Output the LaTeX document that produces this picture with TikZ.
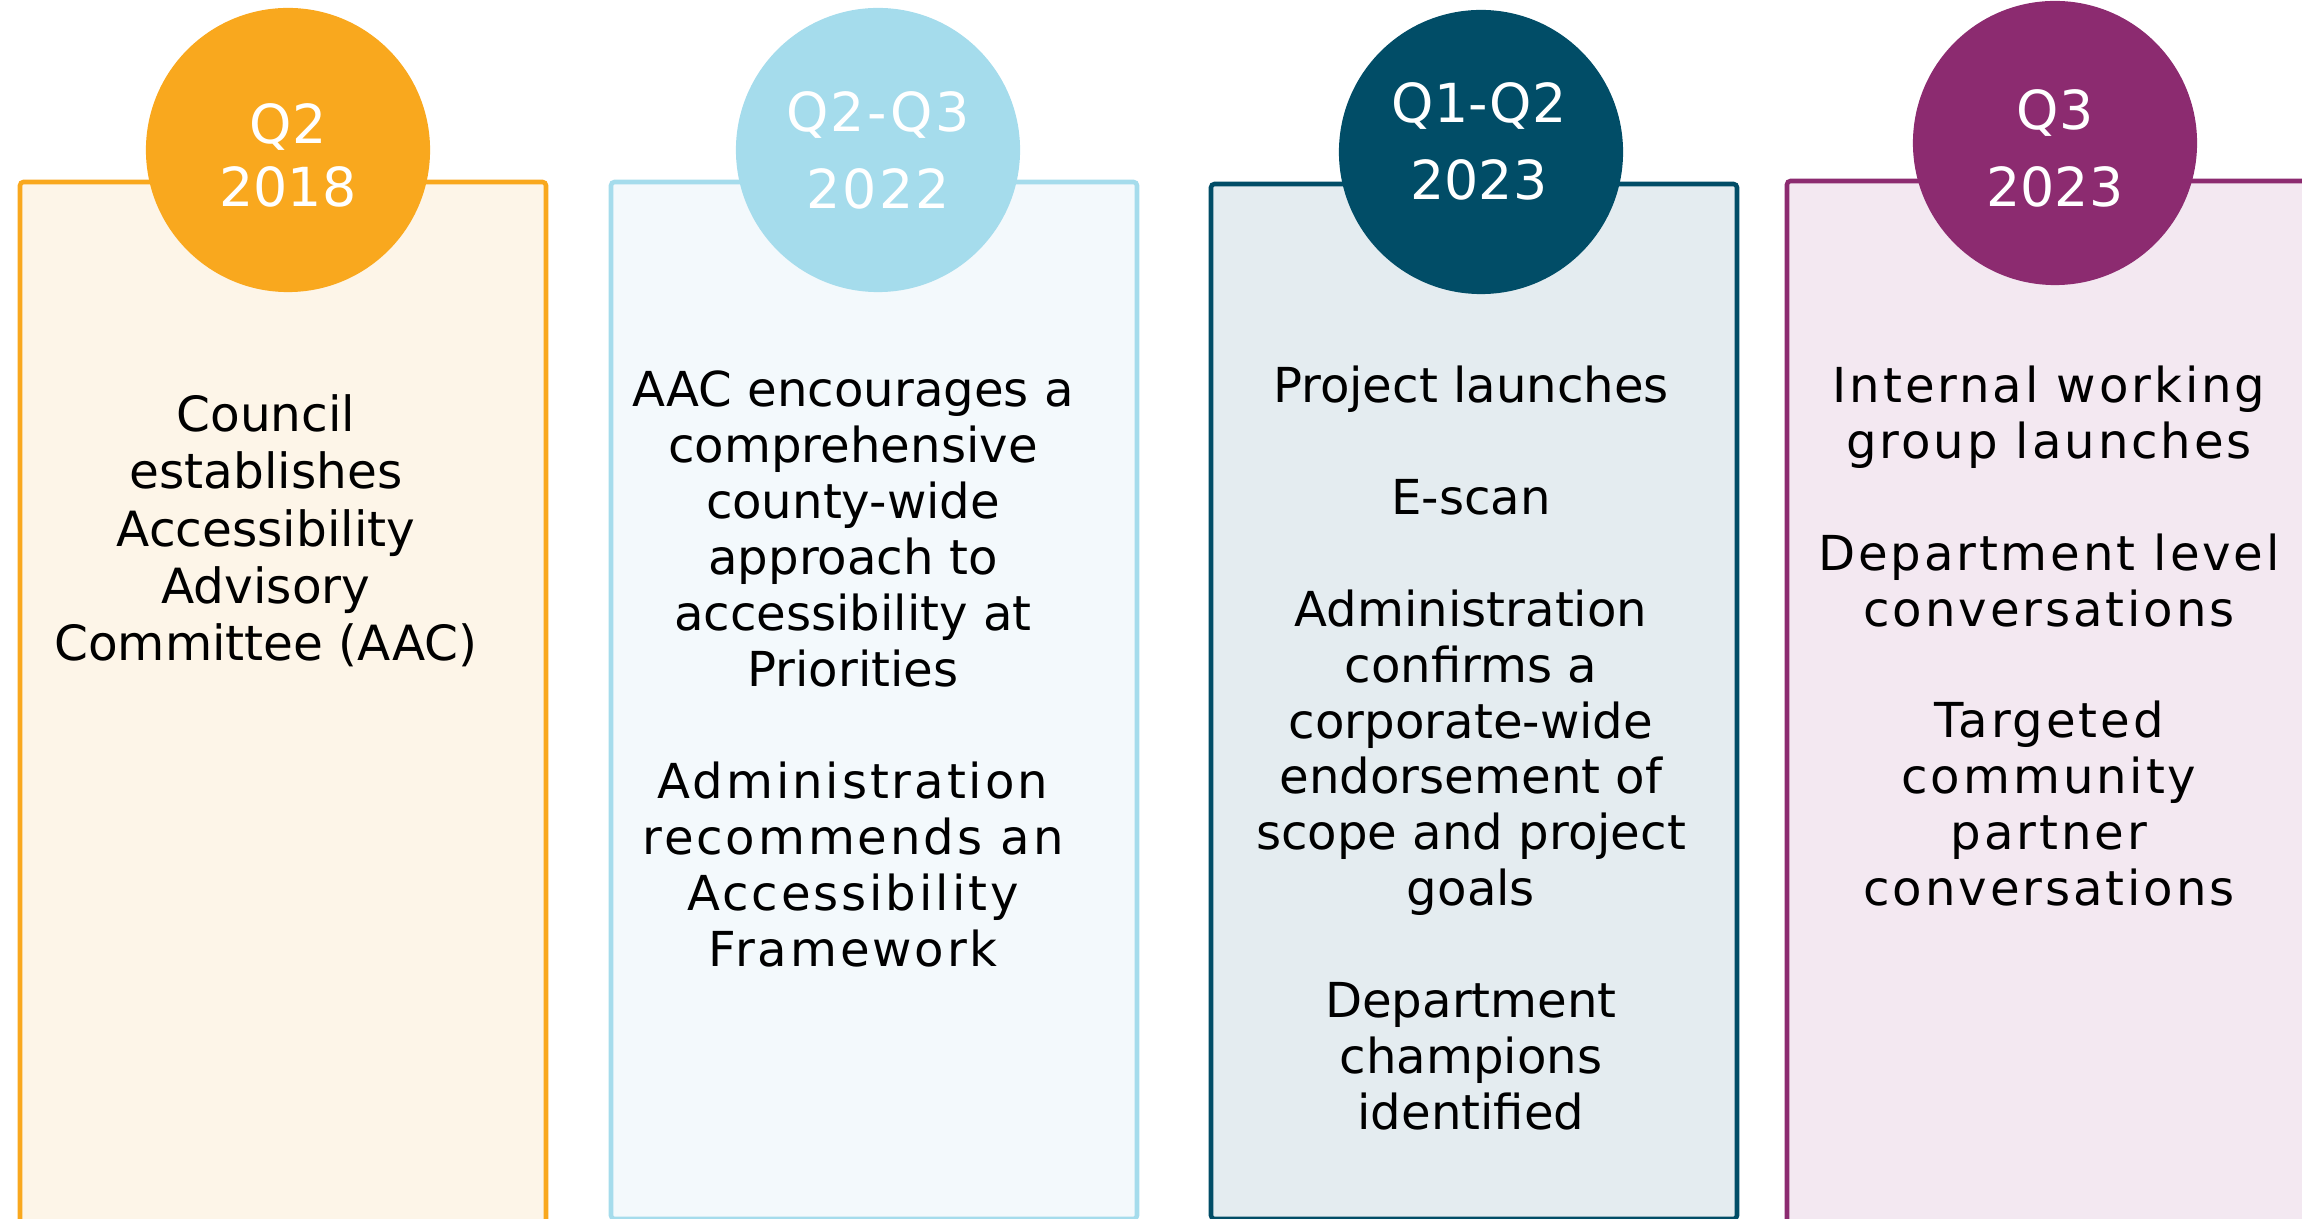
\documentclass[tikz,border=0pt]{standalone}
\usepackage{fontspec}
\setmainfont{DejaVu Sans}
\newfontfamily\wideA[LetterSpace=6]{DejaVu Sans}
\newfontfamily\wideC[LetterSpace=4]{DejaVu Sans}
\definecolor{orgline}{HTML}{F9A81E}
\definecolor{orgfill}{HTML}{FDF5E8}
\definecolor{bluline}{HTML}{A5DCEC}
\definecolor{blufill}{HTML}{F3F9FC}
\definecolor{tealine}{HTML}{014D67}
\definecolor{teafill}{HTML}{E4ECF0}
\definecolor{purline}{HTML}{8C2B70}
\definecolor{purfill}{HTML}{F3E8F1}

\begin{document}
\begin{tikzpicture}[x=0.01cm,y=-0.01cm,
	box/.style={line width=1.3pt,rounded corners=1pt},
	dot/.style={circle,fill=#1,minimum size=2.84cm,inner sep=0pt},
	date/.style={text=white,align=center,font=\fontsize{15.3}{21.9}\selectfont},
	body/.style={align=center,font=\fontsize{13.7}{15.9}\selectfont}]
			%%%%% START %%%%%
			\def\ytop{182}
			\def\len{1037}
			\def\w{526}
			\def\xone{20}
			\def\xtwo{611}
			\def\xthree{1211}
			\def\xfour{1787}
			
			\useasboundingbox (0,0) rectangle (2302,1219);
			\clip (0,0) rectangle (2302,1219);
			
			% columns
			\draw[box,draw=orgline,fill=orgfill] (\xone,\ytop) rectangle +(\w,\len+4);
			\draw[box,draw=bluline,fill=blufill] (\xtwo,\ytop) rectangle +(\w,\len);
			\draw[box,draw=tealine,fill=teafill] (\xthree,\ytop+2) rectangle +(\w,\len-2);
			\draw[box,draw=purline,fill=purfill] (\xfour,\ytop-1) rectangle +(\w,\len+5);
			
			% quarters
			\node[dot=orgline] (c1) at (288,150) {};
			\node[dot=bluline] (c2) at (878,150) {};
			\node[dot=tealine] (c3) at (1481,152) {};
			\node[dot=purline] (c4) at (2055,143) {};
			
			\node[date,font=\fontsize{15.3}{17.9}\selectfont] (d1) at (288,155) {Q2\\2018};
			\node[date,font=\wideC\fontsize{15.3}{21.9}\selectfont] (d2) at (878,150) {Q2-Q3\\2022};
			\node[date] (d3) at (1479,141) {Q1-Q2\\2023};
			\node[date] (d4) at (2055,148) {Q3\\2023};
			
			% steps
			\node[body,font=\fontsize{13.8}{16.3}\selectfont] (t1) at (266,531) {Council\\establishes\\Accessibility\\Advisory\\Committee (AAC)};
			\node[body] (t2) at (853,669) {AAC encourages a\\comprehensive\\county-wide\\approach to\\accessibility at\\Priorities\\[15.9pt]
				{\wideA Administration}\\{\wideA recommends an}\\{\wideA Accessibility}\\{\wideA Framework}};
			\node[body] (t3) at (1471,748) {Project launches\\[15.9pt]E-scan\\[15.9pt]Administration\\confirms a\\corporate-wide\\endorsement of\\scope and project\\goals\\[15.9pt]
				Department\\champions\\identified};
			\node[body,font=\wideA\fontsize{13.7}{15.9}\selectfont] (t4) at (2049,636) {Internal working\\group launches\\[15.9pt]Department level\\conversations\\[15.9pt]
				Targeted\\community\\partner\\conversations};
			%%%%% END %%%%%
\end{tikzpicture}
\end{document}
